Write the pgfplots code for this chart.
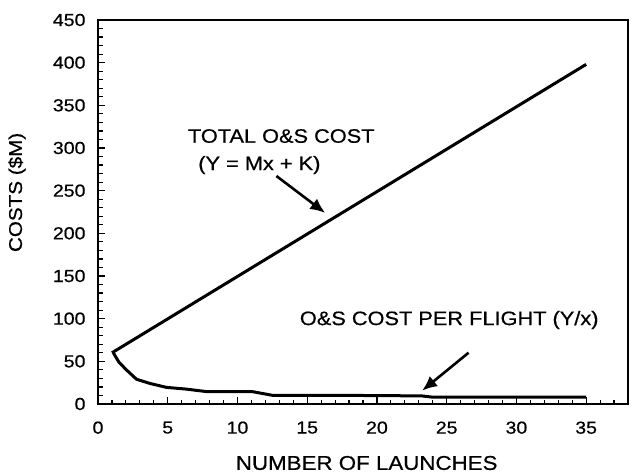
\documentclass[border=0pt]{standalone}
\usepackage{fontspec}
\setmainfont[FakeStretch=1.12, FakeBold=0.6]{Liberation Sans}
\usepackage{pgfplots}
\pgfplotsset{compat=1.18}
\usetikzlibrary{arrows.meta}

\pgfplotstableread{
x y
1 60
35 398
}\totalcost

\pgfplotstableread{
x y
1.1 60
1.5 49
2.05 39.8
2.76 29
3.7 24.2
4.9 19.5
6.3 17.5
7.8 14.5
11.1 14.4
12.5 10.2
18.7 10
23.2 9.5
24 8
35 8
}\perflight

\begin{document}
\begin{tikzpicture}
\begin{axis}[
  scale only axis,
  width=530bp, height=384bp,
  xmin=0, xmax=38, ymin=0, ymax=450,
  axis line style={line width=1.8bp},
  xtick={0,5,...,35}, ytick={0,50,...,450},
  minor xtick={1,2,...,38}, minor ytick={10,20,...,440},
  tick align=inside, tick pos=left,
  major tick length=7bp, minor tick length=4.5bp,
  every tick/.style={black, line width=1.2bp},
  /pgf/number format/assume math mode=true,
  tick label style={font=\fontsize{17.5}{17.5}\selectfont},
  xticklabel style={yshift=-14bp},
  yticklabel style={xshift=-9bp},
  xlabel={NUMBER OF LAUNCHES},
  ylabel={COSTS (\$M)},
  xlabel style={font=\fontsize{20}{20}\selectfont, at={(axis description cs:0.507,0)}, anchor=center, yshift=-59bp},
  ylabel style={font=\fontsize{18.5}{18.5}\selectfont, at={([xshift=-81bp]axis description cs:0,0.551)}, anchor=center},
  clip=false,
]
\addplot[black, line width=3bp] table[x=x,y=y] {\totalcost};
\addplot[black, line width=3bp] table[x=x,y=y] {\perflight};

\node[font=\fontsize{19.5}{19.5}\selectfont, anchor=center] at (axis cs:13.14,314) {TOTAL O\&S COST};
\node[font=\fontsize{19.5}{19.5}\selectfont, anchor=center] at (axis cs:11.57,280) {(Y = Mx + K)};
\draw[line width=2.6bp, -{Latex[length=15bp,width=13bp]}] (axis cs:12.79,267.2) -- (axis cs:16.29,223.9);

\node[font=\fontsize{19.5}{19.5}\selectfont, anchor=center] at (axis cs:25.18,98.4) {O\&S COST PER FLIGHT (Y/x)};
\draw[line width=2.6bp, -{Latex[length=15bp,width=13bp]}] (axis cs:26.57,60.1) -- (axis cs:23.24,15.6);
\end{axis}
\pgfresetboundingbox
\path ([xshift=-98bp,yshift=-72bp]current axis.south west) rectangle ([xshift=534bp,yshift=404bp]current axis.south west);
\end{tikzpicture}
\end{document}
